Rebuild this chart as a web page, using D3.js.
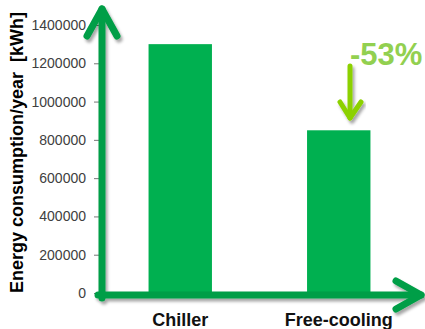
<!DOCTYPE html>
<html>
<head>
<meta charset="utf-8">
<script src="https://cdn.jsdelivr.net/npm/d3@7"></script>
<style>
  html, body { margin: 0; padding: 0; background: #fff; }
  svg { display: block; }
</style>
</head>
<body>
<svg id="chart" width="425" height="329"></svg>
<script>
// Annual energy use of the two cooling options
const categories = ["Chiller", "Free-cooling"];
const energyKWh = [1300000, 850000];
const yTicks = [0, 200000, 400000, 600000, 800000, 1000000, 1200000, 1400000];
const yTitle = "Energy consumption/year  [kWh]";
const savingLabel = "-53%";

const W = 425, H = 329;
const svg = d3.select("#chart");

const x = d3.scaleBand()
  .domain(categories)
  .range([101, 418])
  .paddingInner(0.6)
  .paddingOuter(0.3);

const y = d3.scaleLinear()
  .domain([0, 1400000])
  .range([293, 25]);

// soft shadow under the axis arrows
const defs = svg.append("defs");
const f = defs.append("filter").attr("id", "shadow")
  .attr("x", "-20%").attr("y", "-20%").attr("width", "140%").attr("height", "140%");
f.append("feDropShadow")
  .attr("dx", 2).attr("dy", 3).attr("stdDeviation", 1.6)
  .attr("flood-color", "#000").attr("flood-opacity", 0.35);

// bars
svg.append("g").selectAll("rect")
  .data(categories)
  .join("rect")
  .attr("x", d => x(d))
  .attr("width", x.bandwidth())
  .attr("y", (d, i) => y(energyKWh[i]))
  .attr("height", (d, i) => y(0) - y(energyKWh[i]))
  .attr("fill", "#00b050");

// y axis ticks and labels
const yAxis = svg.append("g")
  .attr("transform", "translate(99,0)")
  .call(d3.axisLeft(y).tickValues(yTicks).tickSize(5).tickPadding(8).tickFormat(d3.format("d")));
yAxis.select(".domain").remove();
yAxis.selectAll(".tick line").attr("stroke", "#777");
yAxis.selectAll(".tick text")
  .attr("fill", "#404040")
  .style("font-family", "'Liberation Sans', Arial, sans-serif")
  .style("font-size", "14px");

// axis arrows
const axisColor = "#009e47";
const ax = 102, ay = y(0) + 2;
const arrows = svg.append("g")
  .attr("fill", "none")
  .attr("stroke", axisColor)
  .attr("stroke-width", 7)
  .attr("stroke-linecap", "round")
  .attr("stroke-linejoin", "round")
  .attr("filter", "url(#shadow)");
arrows.append("path").attr("d", `M${ax},${ay + 3} L${ax},9`);
arrows.append("path").attr("d", `M${ax - 15},36 L${ax},9 L${ax + 15},36`);
arrows.append("path").attr("d", `M${ax - 4},${ay} L421,${ay}`);
arrows.append("path").attr("d", `M396,${ay - 14} L421,${ay} L396,${ay + 14}`);

// category labels
svg.append("g").selectAll("text")
  .data(categories)
  .join("text")
  .attr("x", d => x(d) + x.bandwidth() / 2)
  .attr("y", 326)
  .attr("text-anchor", "middle")
  .style("font-family", "'Liberation Sans', Arial, sans-serif")
  .style("font-weight", "bold")
  .style("font-size", "18px")
  .attr("fill", "#111")
  .text(d => d);

// y axis title
svg.append("text")
  .attr("transform", "translate(23,293) rotate(-90)")
  .attr("text-anchor", "start")
  .style("white-space", "pre")
  .style("font-family", "'Liberation Sans', Arial, sans-serif")
  .style("font-weight", "bold")
  .style("font-size", "18px")
  .attr("fill", "#000")
  .text(yTitle);

// saving annotation
const dropX = 350;
const note = svg.append("g")
  .attr("fill", "none")
  .attr("stroke", "#8cd100")
  .attr("stroke-width", 5)
  .attr("stroke-linecap", "round")
  .attr("stroke-linejoin", "round")
  .attr("filter", "url(#shadow)");
note.append("path").attr("d", `M${dropX},66 L${dropX},118`);
note.append("path").attr("d", `M${dropX - 10},102 L${dropX},118 L${dropX + 11},102`);

svg.append("text")
  .attr("x", 350)
  .attr("y", 65)
  .style("font-family", "'Liberation Sans', Arial, sans-serif")
  .style("font-weight", "bold")
  .style("font-size", "31px")
  .attr("fill", "#92d050")
  .text(savingLabel);
</script>
</body>
</html>
